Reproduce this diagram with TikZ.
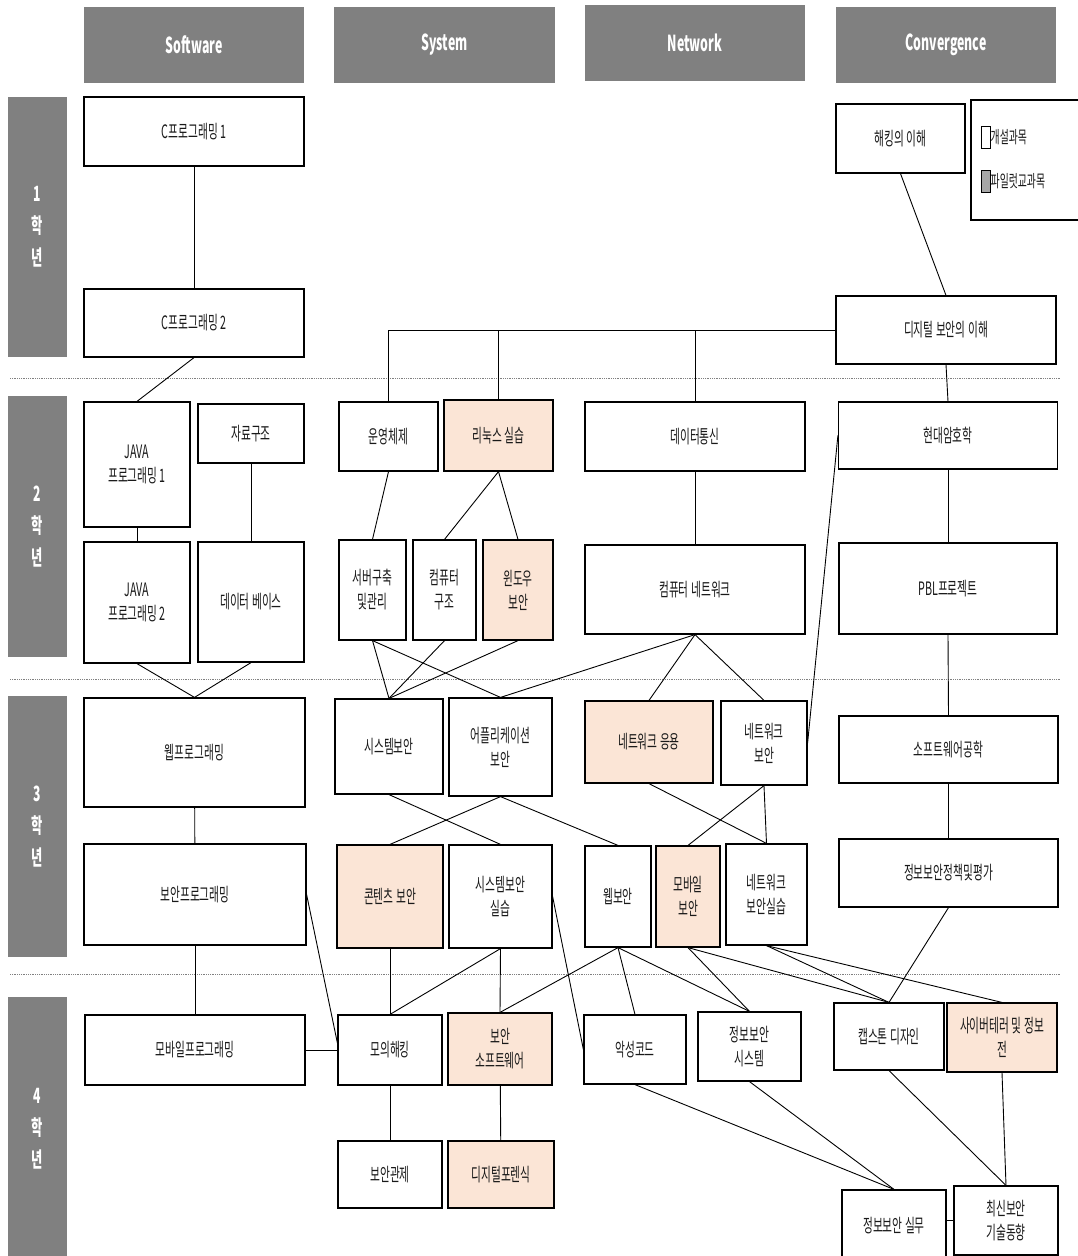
\documentclass[tikz,border=0pt]{standalone}
\usepackage{fontspec}
\setmainfont{Noto Sans CJK KR}[FakeStretch=0.58]
\newfontfamily\headfont{Noto Sans CJK KR}[FakeStretch=0.56]
\definecolor{pilotfill}{RGB}{251,229,214}
\definecolor{headgray}{RGB}{128,128,128}
\tikzset{
  course/.style={draw=black, line width=1.2pt, fill=white, inner sep=0pt,
    align=center, text=black!90, font=\fontsize{18.5}{24}\selectfont},
  pilot/.style={course, fill=pilotfill},
  head/.style={fill=headgray, text=white, inner sep=0pt,
    font=\headfont\fontsize{22}{24}\selectfont\bfseries},
  grade/.style={fill=headgray, text=white, inner sep=0pt, align=center,
    font=\fontsize{21}{32}\selectfont\bfseries},
  link/.style={line width=0.9pt},
  sepline/.style={gray, densely dotted, line width=0.8pt}
}
\begin{document}
\begin{tikzpicture}[x=1pt,y=-1pt]

\newcommand\wide{220pt}

\useasboundingbox (0,0) rectangle (1077,1256);

%% column heads
\node[head, minimum width=\wide, minimum height=76pt] (hsw)   at (194,45)   {Software};
\node[head, minimum width=221pt, minimum height=76pt] (hsys)  at (444.5,45) {System};
\node[head, minimum width=\wide, minimum height=76pt] (hnet)  at (695,43)   {Network};
\node[head, minimum width=\wide, minimum height=76pt] (hconv) at (946,45)   {Convergence};

%% grades
\node[grade, minimum width=59pt, minimum height=260pt] (g1) at (37.5,227)    {1\\학\\년};
\node[grade, minimum width=59pt, minimum height=261pt] (g2) at (37.5,526.5)  {2\\학\\년};
\node[grade, minimum width=59pt, minimum height=261pt] (g3) at (37.5,826.5)  {3\\학\\년};
\node[grade, minimum width=59pt, minimum height=263pt] (g4) at (37.5,1128.5) {4\\학\\년};

\draw[sepline] (10,378) -- (1060,378);
\draw[sepline] (10,679) -- (1060,679);
\draw[sepline] (10,974) -- (1060,974);

%% legend
\draw[line width=1.2pt] (971,100) rectangle (1082,220);
\node[draw, line width=1pt, fill=white, minimum width=9pt, minimum height=22pt, inner sep=0pt] (lopen) at (985.5,137) {};
\node[draw, line width=1pt, fill=gray!70, minimum width=9pt, minimum height=22pt, inner sep=0pt] (lpilot) at (985.5,181) {};
\node[anchor=west, inner sep=0pt, text=black!90, font=\fontsize{17}{18}\selectfont] (topen) at (lopen.east) {개설과목};
\node[anchor=west, inner sep=0pt, text=black!90, font=\fontsize{17}{18}\selectfont] (tpilot) at (lpilot.east) {파일럿교과목};

%% 1st year
\node[course, minimum width=\wide, minimum height=69pt] (c1)   at (194,131.5) {C프로그래밍 1};
\node[course, minimum width=\wide, minimum height=68pt] (c2)   at (194,323)   {C프로그래밍 2};
\node[course, minimum width=129pt, minimum height=69pt] (hack) at (900.5,138.5) {해킹의 이해};
\node[course, minimum width=\wide, minimum height=68pt] (dsec) at (946,330)   {디지털 보안의 이해};

%% 2nd year
\node[course, minimum width=106pt, minimum height=125pt] (java1) at (137,464.5) {JAVA\\프로그래밍 1};
\node[course, minimum width=106pt, minimum height=59pt]  (ds)    at (251,433.5) {자료구조};
\node[course, minimum width=106pt, minimum height=121pt] (java2) at (137,602.5) {JAVA\\프로그래밍 2};
\node[course, minimum width=106pt, minimum height=120pt] (db)    at (251,602)   {데이터 베이스};
\node[course, minimum width=99pt,  minimum height=69pt]  (os)    at (388.5,436.5) {운영체제};
\node[pilot,  minimum width=109pt, minimum height=71pt]  (linux) at (498.5,435.5) {리눅스 실습};
\node[course, minimum width=67pt,  minimum height=100pt] (server) at (372.5,590) {서버구축\\및관리};
\node[course, minimum width=63pt,  minimum height=100pt] (arch)  at (444.5,590) {컴퓨터\\구조};
\node[pilot,  minimum width=70pt,  minimum height=100pt] (win)   at (518,590)   {윈도우\\보안};
\node[course, minimum width=\wide, minimum height=69pt]  (dcomm) at (695,436.5) {데이터통신};
\node[course, minimum width=\wide, minimum height=89pt]  (cnet)  at (695,589.5) {컴퓨터 네트워크};
\node[course, minimum width=219pt, minimum height=67pt]  (crypto) at (948,435.5) {현대암호학};
\node[course, minimum width=218pt, minimum height=91pt]  (pbl)   at (948,588.5) {PBL프로젝트};

%% 3rd year
\node[course, minimum width=221pt, minimum height=109pt] (webprog) at (194.5,752.5) {웹프로그래밍};
\node[course, minimum width=222pt, minimum height=101pt] (secprog) at (195,894.5)   {보안프로그래밍};
\node[course, minimum width=108pt, minimum height=95pt]  (syssec)  at (389,746.5)   {시스템보안};
\node[course, minimum width=103pt, minimum height=98pt]  (appsec)  at (500.5,747)   {어플리케이션\\보안};
\node[pilot,  minimum width=128pt, minimum height=82pt]  (netapp)  at (649,742)     {네트워크 응용};
\node[course, minimum width=86pt,  minimum height=84pt]  (netsec)  at (764,743)     {네트워크\\보안};
\node[course, minimum width=219pt, minimum height=67pt]  (swe)     at (948.5,749.5) {소프트웨어공학};
\node[pilot,  minimum width=106pt, minimum height=103pt] (content) at (390,896.5)   {콘텐츠 보안};
\node[course, minimum width=103pt, minimum height=103pt] (sspr)    at (500.5,896.5) {시스템보안\\실습};
\node[course, minimum width=66pt,  minimum height=101pt] (websec)  at (618,896.5)   {웹보안};
\node[pilot,  minimum width=64pt,  minimum height=101pt] (mobsec)  at (688,896.5)   {모바일\\보안};
\node[course, minimum width=81pt,  minimum height=101pt] (nspr)    at (766.5,894.5) {네트워크\\보안실습};
\node[course, minimum width=219pt, minimum height=68pt]  (policy)  at (948.5,873)   {정보보안정책및평가};

%% 4th year
\node[course, minimum width=\wide, minimum height=70pt] (mobprog)  at (195,1050)    {모바일프로그래밍};
\node[course, minimum width=104pt, minimum height=70pt] (mockhack) at (390,1050)    {모의해킹};
\node[pilot,  minimum width=104pt, minimum height=72pt] (secsw)    at (500,1049)    {보안\\소프트웨어};
\node[course, minimum width=104pt, minimum height=67pt] (monitor)  at (390,1174.5)  {보안관제};
\node[pilot,  minimum width=106pt, minimum height=67pt] (forensic) at (501,1174.5)  {디지털포렌식};
\node[course, minimum width=102pt, minimum height=69pt] (malware)  at (635,1049.5)  {악성코드};
\node[course, minimum width=103pt, minimum height=69pt] (infosys)  at (749.5,1046.5) {정보보안\\시스템};
\node[course, minimum width=110pt, minimum height=67pt] (capstone) at (889,1036.5)  {캡스톤 디자인};
\node[pilot,  minimum width=110pt, minimum height=69pt] (cyber)    at (1002,1037.5) {사이버테러 및 정보\\전};
\node[course, minimum width=104pt, minimum height=72pt] (practice) at (894,1226)    {정보보안 실무};
\node[course, minimum width=104pt, minimum height=69pt] (trend)    at (1006,1220.5) {최신보안\\기술동향};

%% links
\draw[link] (c1) -- (c2);
\draw[link] (c2.south) -- (java1.north);
\draw[link] (hack.south) -- (dsec.north);
\draw[link] (dsec.west) -- (os.north |- dsec.west) -- (os.north);
\draw[link] (linux.north |- dsec.west) -- (linux.north);
\draw[link] (dcomm.north |- dsec.west) -- (dcomm.north);
\draw[link] (dsec.south) -- (crypto.north);

\draw[link] (java1) -- (java2);
\draw[link] (ds) -- (db);
\draw[link] (os.south) -- (server.north);
\draw[link] (linux.south) -- (arch.north);
\draw[link] (linux.south) -- (win.north);
\draw[link] (dcomm) -- (cnet);
\draw[link] (crypto) -- (pbl);

\draw[link] (java2.south) -- (webprog.north);
\draw[link] (db.south) -- (webprog.north);
\draw[link] (server.south) -- (syssec.north);
\draw[link] (server.south) -- (appsec.north);
\draw[link] (arch.south) -- (syssec.north);
\draw[link] (win.south) -- (syssec.north);
\draw[link] (cnet.south) -- (appsec.north);
\draw[link] (cnet.south) -- (netapp.north);
\draw[link] (cnet.south) -- (netsec.north);
\draw[link] (crypto.west) -- (netsec.east);
\draw[link] (pbl.south) -- (swe.north);

\draw[link] (webprog) -- (secprog);
\draw[link] (syssec.south) -- (sspr.north);
\draw[link] (appsec.south) -- (content.north);
\draw[link] (appsec.south) -- (websec.north);
\draw[link] (netapp.south) -- (nspr.north);
\draw[link] (netsec.south) -- (mobsec.north);
\draw[link] (netsec.south) -- (nspr.north);
\draw[link] (swe) -- (policy);
\draw[link] (policy.south) -- (capstone.north);

\draw[link] (secprog) -- (mobprog);
\draw[link] (secprog.east) -- ([yshift=7pt]mockhack.west);
\draw[link] (mobprog) -- (mockhack);
\draw[link] (sspr.east) -- (malware.west);
\draw[link] (content.south) -- (mockhack.north);
\draw[link] (sspr.south) -- (mockhack.north);
\draw[link] (sspr.south) -- (secsw.north);
\draw[link] (websec.south) -- (secsw.north);
\draw[link] (websec.south) -- (malware.north);
\draw[link] (websec.south) -- (infosys.north);
\draw[link] (mobsec.south) -- (infosys.north);
\draw[link] (mobsec.south) -- (capstone.north);
\draw[link] (nspr.south) -- (capstone.north);
\draw[link] (nspr.south) -- (cyber.north);

\draw[link] (mockhack) -- (monitor);
\draw[link] (secsw) -- (forensic);
\draw[link] (malware.south) -- (practice.north);
\draw[link] (infosys.south) -- (practice.north);
\draw[link] (capstone.south) -- (trend.north);
\draw[link] (cyber.south) -- (trend.north);
\draw[link] (practice.east |- trend.west) -- (trend.west);

\end{tikzpicture}
\end{document}
